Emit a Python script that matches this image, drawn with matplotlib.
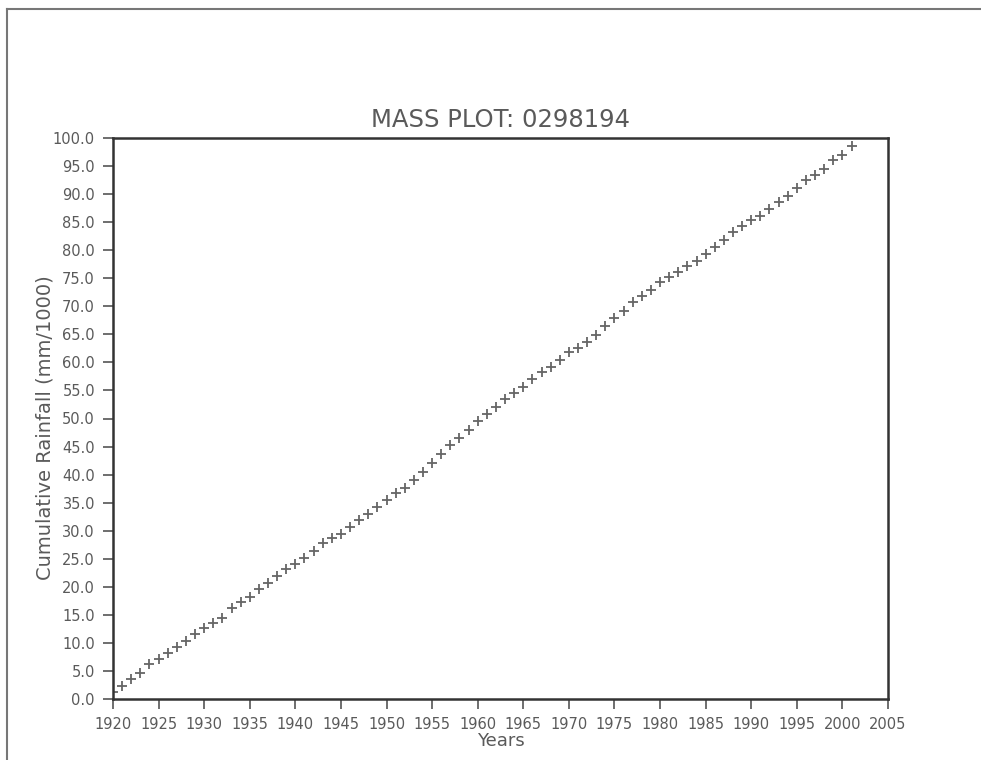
import numpy as np
import matplotlib
matplotlib.use("Agg")
import matplotlib.pyplot as plt
from matplotlib.lines import Line2D

# cumulative rainfall, one point per year
years = list(range(1920, 2002))
cum_rain = [
    1.3, 2.4, 3.6, 4.7, 6.2, 7.1, 8.2, 9.3, 10.4, 11.6,
    12.7, 13.6, 14.5, 16.2, 17.3, 18.2, 19.6, 20.7, 21.9, 23.1,
    24.1, 25.2, 26.3, 27.8, 28.7, 29.5, 30.7, 31.9, 32.9, 34.3,
    35.4, 36.7, 37.7, 39.0, 40.4, 42.0, 43.7, 45.2, 46.6, 48.0,
    49.6, 50.8, 52.1, 53.4, 54.5, 55.6, 57.0, 58.3, 59.2, 60.4,
    61.8, 62.6, 63.7, 64.9, 66.4, 67.9, 69.2, 70.7, 71.9, 72.9,
    74.3, 75.3, 76.1, 77.1, 78.0, 79.3, 80.6, 81.8, 83.3, 84.4,
    85.3, 86.1, 87.3, 88.6, 89.7, 91.0, 92.5, 93.4, 94.4, 96.0,
    97.0, 98.6,
]
xticks = list(range(1920, 2006, 5))
yticks = np.arange(0, 100.1, 5)

txt = "#5a5a5a"
plt.rcParams['font.family'] = ['DejaVu Sans']

fig = plt.figure(figsize=(9.81, 7.6), dpi=100)
ax = fig.add_axes([113 / 981, 1 - 699 / 760, 775 / 981, 561 / 760])

ax.plot(years, cum_rain, ls="none", marker="+", ms=7, mew=1.3, color="#666666")

ax.set_xlim(1920, 2005)
ax.set_ylim(0, 100)
ax.set_xticks(xticks)
ax.set_yticks(yticks)
ax.set_yticklabels([f"{v:.1f}" for v in yticks])
ax.tick_params(direction="out", length=7, width=1.2, color="#555555",
               labelcolor=txt, labelsize=10.5, pad=6)
for s in ax.spines.values():
    s.set_linewidth(1.8)
    s.set_color("#333333")

ax.set_title("MASS PLOT: 0298194", color=txt, fontsize=17.5, pad=8)
ax.set_xlabel("Years", color=txt, fontsize=13, labelpad=0)
ax.set_ylabel("Cumulative Rainfall (mm/1000)", color=txt, fontsize=14, labelpad=0)
ax.yaxis.set_label_coords(-0.075, 0.484)

# thin frame at top and left of the image
fig.add_artist(Line2D([7 / 981, 1], [1 - 9 / 760, 1 - 9 / 760], color="#777777", lw=1.5))
fig.add_artist(Line2D([7 / 981, 7 / 981], [0, 1 - 9 / 760], color="#777777", lw=1.5))

fig.savefig("out.png", dpi=100)
